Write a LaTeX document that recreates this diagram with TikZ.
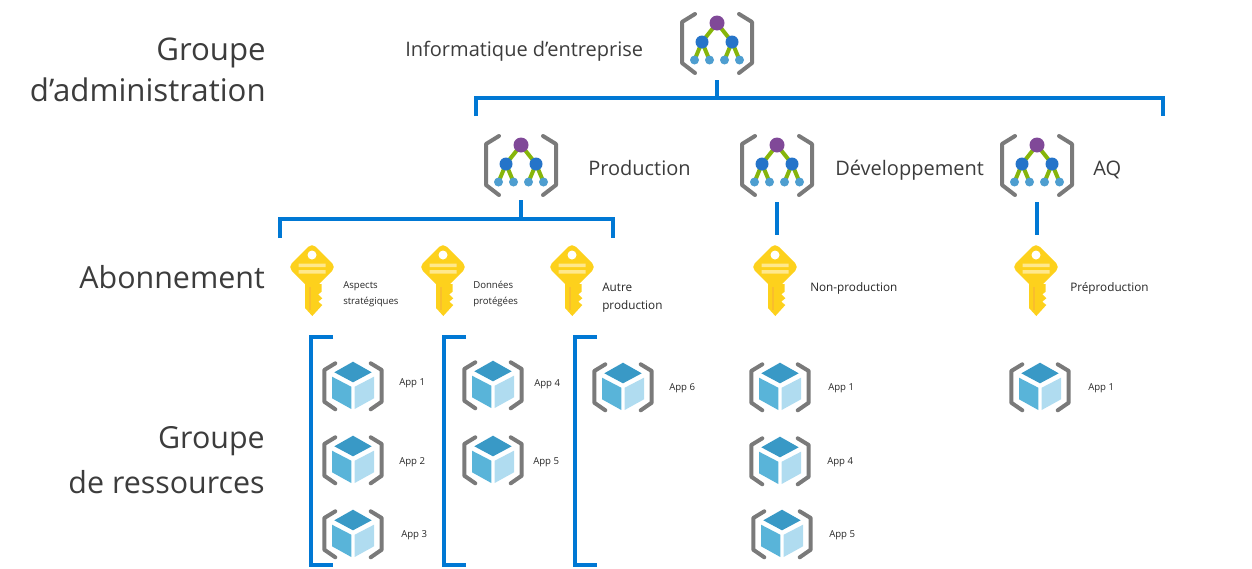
\documentclass[tikz,border=0pt]{standalone}
\usepackage{fontspec}
\setmainfont{Open Sans}
\definecolor{barblue}{HTML}{0078D4}
\definecolor{brackgray}{HTML}{7A7A7A}
\definecolor{mgpurple}{HTML}{804998}
\definecolor{mgblue}{HTML}{2574C9}
\definecolor{mglight}{HTML}{4E9ED0}
\definecolor{mggreen}{HTML}{86B50A}
\definecolor{keyyellow}{HTML}{FDD11C}
\definecolor{keylight}{HTML}{FFE88C}
\definecolor{keydark}{HTML}{F9BE2C}
\definecolor{cubetop}{HTML}{3999C6}
\definecolor{cubeleft}{HTML}{59B4D9}
\definecolor{cuberight}{HTML}{B0DCF0}
\definecolor{txtgray}{HTML}{3C3C3C}
\tikzset{
  conn/.style={draw=barblue,line width=3.4pt},
  bracket/.style={draw=brackgray,line width=3pt,line join=round,line cap=round},
  bigtxt/.style={text=txtgray,font=\fontsize{22.8}{31}\selectfont,align=right,anchor=east,inner sep=0pt},
  midtxt/.style={text=txtgray,font=\fontsize{15}{18}\selectfont,anchor=base west,inner sep=0pt},
  smalltxt/.style={text=black!85,font=\fontsize{7.2}{12}\selectfont,anchor=west,align=left,inner sep=0pt},
  subtxt/.style={text=black!85,font=\fontsize{8.8}{13.5}\selectfont,anchor=west,align=left,inner sep=0pt},
  mgicon/.pic={
    \draw[bracket] (-22,-29) -- (-35,-21) -- (-35,20) -- (-22,30);
    \draw[bracket] (22,-29) -- (35,-21) -- (35,20) -- (22,30);
    \draw[mggreen,line width=3pt] (-22.5,17) -- (-15,-1) -- (-7.5,17) (7.5,17) -- (15,-1) -- (22.5,17) (-15,-1) -- (0,-20) -- (15,-1);
    \fill[mgpurple] (0,-20) circle (7.5);
    \fill[mgblue] (-15,-1) circle (6.5) (15,-1) circle (6.5);
    \fill[mglight] (-22.5,17) circle (4.5) (-7.5,17) circle (4.5) (7.5,17) circle (4.5) (22.5,17) circle (4.5);
  },
  keyicon/.pic={
    \fill[keyyellow,rounded corners=4pt] (0,-37) -- (24,-13) -- (0,11) -- (-24,-13) -- cycle;
    \fill[keyyellow] (-7,4) -- (9.7,4) -- (9.7,11.7) -- (6.3,14.3) -- (10.3,18.3) -- (6.3,21.7) -- (10.3,25) -- (0.3,36) -- (-7,28) -- cycle;
    \fill[keydark] (-3.5,7) rectangle (-1.2,30);
    \fill[keylight] (-13.5,-16.5) rectangle (13.5,-13) (-13.5,-10) rectangle (13.5,-6.5);
    \fill[white] (0,-25) circle (4.5);
  },
  cubeicon/.pic={
    \draw[bracket] (-17.7,-21.7) -- (-28.7,-15) -- (-28.7,16.7) -- (-17.7,24.3);
    \draw[bracket] (17.7,-21.7) -- (28.7,-15) -- (28.7,16.7) -- (17.7,24.3);
    \fill[cubetop] (0,-23.3) -- (-18.7,-12.7) -- (0,-2.7) -- (18.7,-12.7) -- cycle;
    \fill[cubeleft] (-21,-8.3) -- (-1.7,1.7) -- (-1.7,24) -- (-21,13.3) -- cycle;
    \fill[cuberight] (21,-8.3) -- (1.7,1.7) -- (1.7,24) -- (21,13.3) -- cycle;
  },
}
\begin{document}
\begin{tikzpicture}[x=0.75pt,y=-0.75pt]
    \useasboundingbox (0,0) rectangle (1252,568);
    % Niveaux
    \node[bigtxt,font=\fontsize{23.4}{31}\selectfont] (lblgroup) at (266,70) {Groupe\\d’administration};
    \node[bigtxt] (lblsub) at (265,277) {Abonnement};
    \node[bigtxt] (lblres) at (265,460) {Groupe\\[3pt]de ressources};
    % Groupes d'administration
    \coordinate (mgroot) at (717,43);
    \coordinate (mgprod) at (521,165);
    \coordinate (mgdev) at (777,165);
    \coordinate (mgaq) at (1037,165);
    \pic at (mgroot) {mgicon};
    \pic at (mgprod) {mgicon};
    \pic at (mgdev) {mgicon};
    \pic at (mgaq) {mgicon};
    \node[midtxt] (txtroot) at (405,56) {Informatique d’entreprise};
    \node[midtxt] (txtprod) at (588,175) {Production};
    \node[midtxt] (txtdev) at (835,175) {Développement};
    \node[midtxt] (txtaq) at (1093,175) {AQ};
    % Cles
    \coordinate (keystrat) at (312,280);
    \coordinate (keydata) at (443,280);
    \coordinate (keyother) at (572,280);
    \coordinate (keynon) at (775,280);
    \coordinate (keypre) at (1036,280);
    \foreach \k in {keystrat,keydata,keyother,keynon,keypre}
      \pic at (\k) {keyicon};
    \node[smalltxt] (txtstrat) at (343,294) {Aspects\\stratégiques};
    \node[smalltxt] (txtdata) at (473,294) {Données\\protégées};
    \node[subtxt] (txtother) at (602,298) {Autre\\production};
    \node[subtxt] (txtnon) at (810,288) {Non-production};
    \node[subtxt] (txtpre) at (1070,288) {Préproduction};
    % Barres
    \coordinate (rootl) at (476,116);
    \coordinate (rootr) at (1163,116);
    \coordinate (prodl) at (280,238);
    \coordinate (prodr) at (613,238);
    \draw[conn] (rootl) -- (476,98) -- (1163,98) -- (rootr);
    \draw[conn] (mgroot) ++(0,37) -- ++(0,18);
    \draw[conn] (prodl) -- (280,219) -- (613,219) -- (prodr);
    \draw[conn] (mgprod) ++(0,35) -- ++(0,19);
    \draw[conn] (mgdev) ++(0,37) -- ++(0,33);
    \draw[conn] (mgaq) ++(0,37) -- ++(0,33);
    % Crochets
    \draw[conn] (333,337) -- (311,337) -- (311,565) -- (333,565);
    \draw[conn] (466,337) -- (444,337) -- (444,565) -- (466,565);
    \draw[conn] (597,337) -- (575,337) -- (575,565) -- (597,565);
    % Groupes de ressources
    \foreach \x/\y/\lx/\ly/\name in {353/385/399/383.5/App 1,353/459/399/462.5/App 2,353/533/401/535.5/App 3,
        493/384/534/384.5/App 4,493/459/533/462.5/App 5,623/386/669/388.5/App 6,
        780/386/828/388.5/App 1,780/460/827/462.5/App 4,782/533/829/535.5/App 5,1040/386/1088/388.5/App 1}{
      \pic at (\x,\y) {cubeicon};
      \node[smalltxt] at (\lx,\ly) {\name};
    }
\end{tikzpicture}
\end{document}
